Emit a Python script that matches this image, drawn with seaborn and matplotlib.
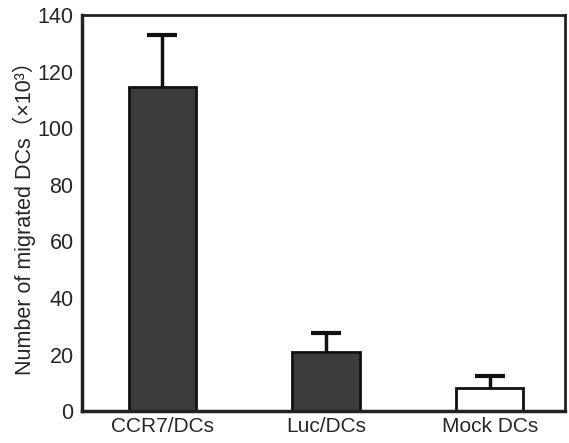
import matplotlib
matplotlib.use("Agg")
import matplotlib.pyplot as plt
import seaborn as sns
import pandas as pd
import numpy as np

categories = ["CCR7/DCs", "Luc/DCs", "Mock DCs"]
values = [114.5, 21.0, 8.0]
upper_err = [18.5, 6.5, 4.5]
bar_colors = ["#3c3c3c", "#3c3c3c", "#ffffff"]
y_ticks = [0, 20, 40, 60, 80, 100, 120, 140]

sns.set_style("white")
plt.rcParams["font.family"] = ["Liberation Sans", "Noto Sans CJK JP", "DejaVu Sans"]

df = pd.DataFrame({"group": categories, "value": values})

fig = plt.figure(figsize=(5.69, 4.43), dpi=100)
ax = fig.add_axes([0.144, 0.072, 0.849, 0.894])

sns.barplot(data=df, x="group", y="value", hue="group", palette=bar_colors,
            width=0.41, edgecolor="#111111", linewidth=2.0, legend=False, ax=ax,
            errorbar=None)

x = np.arange(len(categories))
eb = ax.errorbar(x, values, yerr=[np.zeros(len(values)), upper_err], fmt="none",
                 ecolor="#111111", elinewidth=2.5, capsize=11, capthick=3, zorder=1)
caplines = eb[1]
if len(caplines) == 2:
    caplines[0].set_visible(False)

ax.set_xlim(-0.49, 2.46)
ax.set_ylim(0, 140)
ax.set_yticks(y_ticks)
ax.set_xticks(x)
ax.set_xticklabels(categories)
ax.set_xticks([0.5, 1.5], minor=True)
ax.tick_params(axis="y", direction="in", length=4, width=2, labelsize=15.5, pad=6)
ax.tick_params(axis="x", which="major", length=0, labelsize=15, pad=4)
ax.tick_params(axis="x", which="minor", direction="in", length=4, width=2)
ax.set_xlabel("")
ax.set_ylabel("Number of migrated DCs（×10³）", fontsize=15.5, labelpad=1)
for s in ax.spines.values():
    s.set_visible(True)
    s.set_linewidth(2.0)
    s.set_color("#222222")
ax.spines["left"].set_linewidth(2.5)
ax.spines["bottom"].set_linewidth(2.5)

fig.savefig("out.png", dpi=100)
